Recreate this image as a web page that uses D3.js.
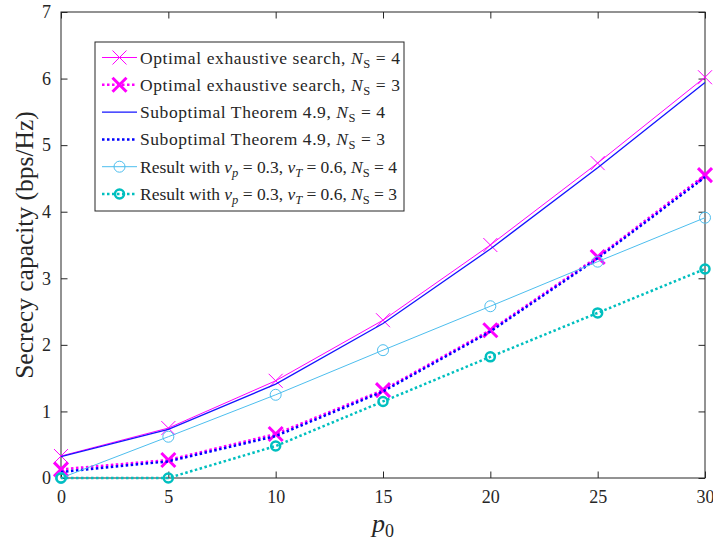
<!DOCTYPE html>
<html>
<head>
<meta charset="utf-8">
<script src="https://cdn.jsdelivr.net/npm/d3@7"></script>
<style>
  body { margin: 0; background: #fff; }
  svg text { font-family: "Liberation Serif", "DejaVu Serif", serif; fill: #262626; }
</style>
</head>
<body>
<svg id="chart" width="713" height="545"></svg>
<script>
// p0 values on the x axis
const p0 = [0, 5, 10, 15, 20, 25, 30];

// secrecy capacity (bps/Hz)
const optNS4 = [0.33, 0.75, 1.46, 2.37, 3.50, 4.73, 6.02];
const optNS3 = [0.13, 0.27, 0.66, 1.32, 2.22, 3.32, 4.55];
const subNS4 = [0.32, 0.73, 1.41, 2.32, 3.44, 4.66, 5.94];
const subNS3 = [0.09, 0.25, 0.63, 1.30, 2.20, 3.30, 4.52];
const resNS4 = [0.00, 0.62, 1.25, 1.92, 2.58, 3.25, 3.91];
const resNS3 = [0.00, 0.00, 0.48, 1.15, 1.82, 2.48, 3.14];

const xTicks = [0, 5, 10, 15, 20, 25, 30];
const yTicks = [0, 1, 2, 3, 4, 5, 6, 7];

const series = [
  { values: optNS4, color: "#ff00ff", width: 1, dash: null, marker: "x", msize: 7, mwidth: 1,
    label: ["Optimal exhaustive search, ", "N", "S", " = 4"], tl: 260 },
  { values: optNS3, color: "#ff00ff", width: 2.5, dash: "2.5,2.5", marker: "x", msize: 7, mwidth: 3,
    label: ["Optimal exhaustive search, ", "N", "S", " = 3"], tl: 260 },
  { values: subNS4, color: "#1515ff", width: 1.3, dash: null, marker: null,
    label: ["Suboptimal Theorem 4.9, ", "N", "S", " = 4"], tl: 245 },
  { values: subNS3, color: "#0000ff", width: 2.5, dash: "2.5,2.5", marker: null,
    label: ["Suboptimal Theorem 4.9, ", "N", "S", " = 3"], tl: 245 },
  { values: resNS4, color: "#4dbeee", width: 1, dash: null, marker: "o", msize: 5.5, mwidth: 1,
    label: "nu4", tl: 257 },
  { values: resNS3, color: "#00bfbf", width: 2.5, dash: "2.5,2.5", marker: "o", msize: 4.5, mwidth: 2.5,
    label: "nu3", tl: 257 }
];

const svg = d3.select("#chart");
const margin = { top: 12, right: 8, bottom: 67, left: 61 };
const W = 713, H = 545;
const x = d3.scaleLinear().domain([0, 30]).range([margin.left, W - margin.right]);
const y = d3.scaleLinear().domain([0, 7]).range([H - margin.bottom, margin.top]);

const axisColor = "#262626";
const tickLen = 6.5;

// axis box with inward ticks on all four sides
const axes = svg.append("g");
axes.append("rect")
  .attr("x", x(0)).attr("y", y(7))
  .attr("width", x(30) - x(0)).attr("height", y(0) - y(7))
  .attr("fill", "none").attr("stroke", axisColor).attr("stroke-width", 1);

const fmt = d3.format("d");
const bottomAxis = d3.axisBottom(x).tickValues(xTicks).tickSize(-tickLen).tickPadding(12).tickFormat(fmt);
const topAxis = d3.axisTop(x).tickValues(xTicks).tickSize(-tickLen).tickFormat("");
const leftAxis = d3.axisLeft(y).tickValues(yTicks).tickSize(-tickLen).tickPadding(10).tickFormat(fmt);
const rightAxis = d3.axisRight(y).tickValues(yTicks).tickSize(-tickLen).tickFormat("");

function styleAxis(g) {
  g.select(".domain").remove();
  g.selectAll(".tick line").attr("stroke", axisColor);
  g.selectAll(".tick text").attr("fill", axisColor).style("font-size", "18px")
    .style("font-family", "'Liberation Serif', serif");
}

axes.append("g").attr("transform", `translate(0,${y(0)})`).call(bottomAxis).call(styleAxis);
axes.append("g").attr("transform", `translate(0,${y(7)})`).call(topAxis).call(styleAxis);
axes.append("g").attr("transform", `translate(${x(0)},0)`).call(leftAxis).call(styleAxis);
axes.append("g").attr("transform", `translate(${x(30)},0)`).call(rightAxis).call(styleAxis);

// axis titles
svg.append("text")
  .attr("x", (x(0) + x(30)) / 2).attr("y", 532)
  .attr("text-anchor", "middle").style("font-size", "26px")
  .call(t => {
    t.append("tspan").style("font-style", "italic").text("p");
    t.append("tspan").attr("dy", 5).style("font-size", "18px").text("0");
  });

svg.append("text")
  .attr("transform", `translate(33,${(y(0) + y(7)) / 2}) rotate(-90)`)
  .attr("text-anchor", "middle").style("font-size", "25.5px")
  .text("Secrecy capacity (bps/Hz)");

// markers
function drawMarker(g, s, cx, cy) {
  if (s.marker === "x") {
    const r = s.msize;
    g.append("path")
      .attr("d", `M${cx - r},${cy - r}L${cx + r},${cy + r}M${cx - r},${cy + r}L${cx + r},${cy - r}`)
      .attr("stroke", s.color).attr("stroke-width", s.mwidth).attr("fill", "none");
  } else if (s.marker === "o") {
    g.append("circle").attr("cx", cx).attr("cy", cy).attr("r", s.msize)
      .attr("fill", "none").attr("stroke", s.color).attr("stroke-width", s.mwidth);
  }
}

const line = d3.line().x((d, i) => x(p0[i])).y(d => y(d));
const plot = svg.append("g");
series.forEach(s => {
  const g = plot.append("g");
  g.append("path").datum(s.values)
    .attr("d", line)
    .attr("fill", "none")
    .attr("stroke", s.color)
    .attr("stroke-width", s.width)
    .attr("stroke-dasharray", s.dash);
  s.values.forEach((v, i) => drawMarker(g, s, x(p0[i]), y(v)));
});

// legend
const lg = svg.append("g");
const lx = 95, ly = 42, lw = 309, lh = 169;
lg.append("rect").attr("x", lx).attr("y", ly).attr("width", lw).attr("height", lh)
  .attr("fill", "#fff").attr("stroke", axisColor).attr("stroke-width", 1);

series.forEach((s, i) => {
  const cy = 57.5 + i * 27.3;
  const g = lg.append("g");
  g.append("line").attr("x1", 102).attr("x2", 137).attr("y1", cy).attr("y2", cy)
    .attr("stroke", s.color).attr("stroke-width", s.width).attr("stroke-dasharray", s.dash);
  drawMarker(g, s, 119.5, cy);
  const t = g.append("text").attr("x", 140).attr("y", cy + 6).style("font-size", "17.5px")
    .attr("textLength", s.tl).attr("lengthAdjust", "spacing");
  if (Array.isArray(s.label)) {
    t.append("tspan").text(s.label[0]);
    t.append("tspan").style("font-style", "italic").text(s.label[1]);
    t.append("tspan").attr("dy", 4).style("font-size", "12.5px").text(s.label[2]);
    t.append("tspan").attr("dy", -4).text(s.label[3]);
  } else {
    const ns = s.label === "nu4" ? " = 4" : " = 3";
    t.append("tspan").text("Result with ");
    t.append("tspan").style("font-style", "italic").text("ν");
    t.append("tspan").attr("dy", 4).style("font-size", "12.5px").style("font-style", "italic").text("p");
    t.append("tspan").attr("dy", -4).text(" = 0.3, ");
    t.append("tspan").style("font-style", "italic").text("ν");
    t.append("tspan").attr("dy", 4).style("font-size", "12.5px").style("font-style", "italic").text("T");
    t.append("tspan").attr("dy", -4).text(" = 0.6, ");
    t.append("tspan").style("font-style", "italic").text("N");
    t.append("tspan").attr("dy", 4).style("font-size", "12.5px").text("S");
    t.append("tspan").attr("dy", -4).text(ns);
  }
});
</script>
</body>
</html>
